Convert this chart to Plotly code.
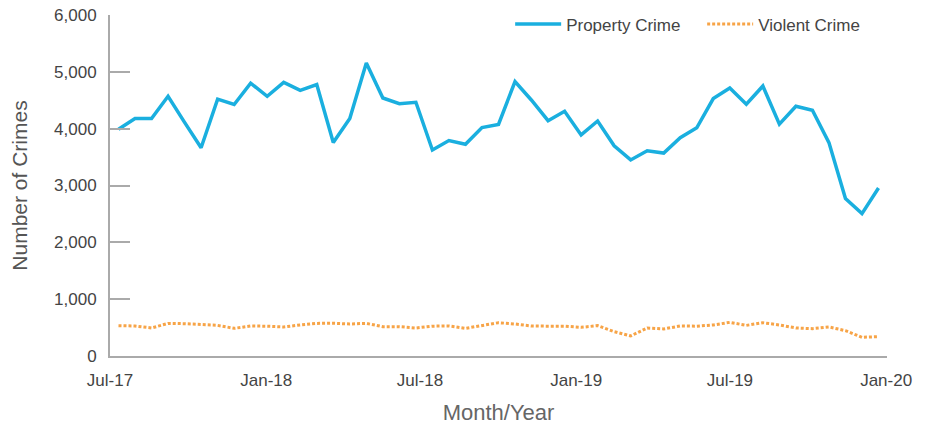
import pandas as pd
import plotly.graph_objects as go

# ~47 reporting periods between Jul-17 and Dec-19
period_start = "2017-07-11"
period_end = "2019-12-23"
n_periods = 47

property_crime = [
    3990, 4180, 4180, 4570, 4110, 3665, 4520, 4425, 4800, 4570,
    4815, 4675, 4775, 3755, 4180, 5155, 4540, 4440, 4465, 3625,
    3790, 3725, 4020, 4075, 4830, 4500, 4140, 4305, 3890, 4135,
    3700, 3450, 3610, 3570, 3840, 4015, 4530, 4715, 4430, 4750,
    4080, 4395, 4325, 3755, 2770, 2505, 2955,
]
violent_crime = [
    534, 528, 493, 574, 569, 551, 539, 487, 528, 524,
    511, 546, 574, 577, 563, 574, 516, 516, 493, 525,
    528, 487, 539, 586, 563, 528, 525, 525, 504, 534,
    429, 353, 493, 476, 528, 525, 546, 592, 539, 586,
    546, 493, 481, 511, 446, 329, 341,
]
tick_dates = ["2017-07-01", "2018-01-01", "2018-07-01", "2019-01-01", "2019-07-01", "2020-01-01"]
tick_labels = ["Jul-17", "Jan-18", "Jul-18", "Jan-19", "Jul-19", "Jan-20"]

dates = pd.date_range(period_start, period_end, periods=n_periods)

FONT = "Liberation Sans, Arial, sans-serif"
AXIS_GREY = "#aaaaaa"

fig = go.Figure()

fig.add_trace(go.Scatter(
    x=dates, y=property_crime, name="Property Crime", mode="lines",
    line=dict(color="#1aafdf", width=3.5),
))
fig.add_trace(go.Scatter(
    x=dates, y=violent_crime, name="Violent Crime", mode="lines",
    line=dict(color="#f7a447", width=3, dash="3px,2px"),
))

fig.update_xaxes(
    type="date",
    range=["2017-07-01", "2020-01-02"],
    tickvals=tick_dates, ticktext=tick_labels,
    showgrid=False, zeroline=False,
    showline=True, linecolor=AXIS_GREY, linewidth=2,
    ticks="", ticklabelstandoff=8, ticklabeloverflow="allow",
    tickfont=dict(family=FONT, size=17, color="#444444"),
    title=dict(text="Month/Year", standoff=15,
               font=dict(family=FONT, size=22, color="#666666")),
)
fig.update_yaxes(
    range=[0, 6000],
    tickvals=[0, 1000, 2000, 3000, 4000, 5000, 6000],
    tickformat=",d",
    showgrid=False, zeroline=False,
    showline=True, linecolor=AXIS_GREY, linewidth=2,
    ticks="inside", ticklen=20, tickwidth=2, tickcolor=AXIS_GREY,
    ticklabelstandoff=8, ticklabeloverflow="allow",
    tickfont=dict(family=FONT, size=17, color="#444444"),
    title=dict(text="Number of Crimes", standoff=26,
               font=dict(family=FONT, size=21, color="#555555")),
)

# page body adds an 8px offset, so the figure is sized to fit inside the window
fig.update_layout(
    width=923, height=418,
    margin=dict(l=102, r=44, t=7, b=70, autoexpand=False),
    plot_bgcolor="white", paper_bgcolor="white",
    legend=dict(
        orientation="h", x=0.515, y=1.025, xanchor="left", yanchor="top",
        font=dict(family=FONT, size=17, color="#444444"),
        bgcolor="rgba(0,0,0,0)", itemwidth=46,
        entrywidth=131, entrywidthmode="pixels",
    ),
)

fig.write_html("out.html")
